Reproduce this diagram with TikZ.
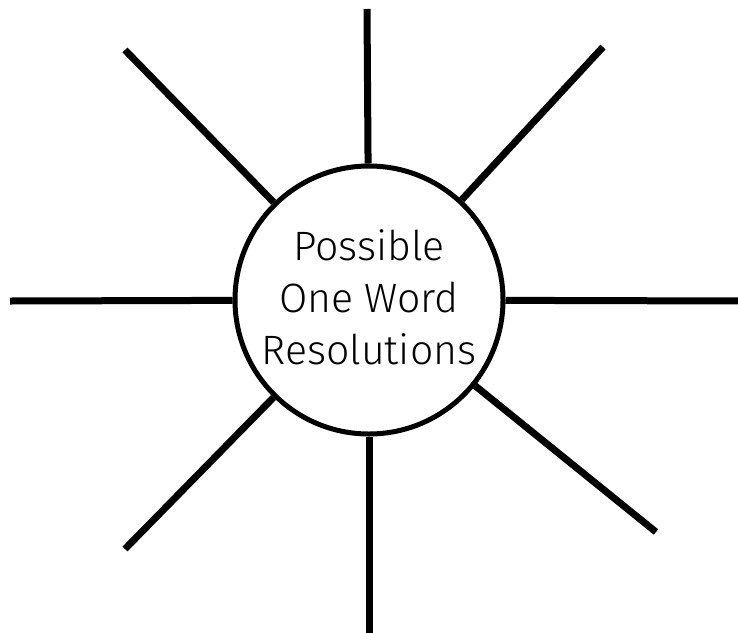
\documentclass[tikz,border=0pt]{standalone}
\usepackage{fontspec}
\setmainfont{Fira Sans}[UprightFont={* Light}]
\begin{document}
\begin{tikzpicture}[x=1pt,y=-1pt,
  ray/.style={line width=7pt, line cap=butt},
  hub/.style={circle, draw, line width=5pt, minimum size=268pt, inner sep=0pt},
  label/.style={align=center, inner sep=0pt, font=\fontsize{41}{52}\selectfont}]
\useasboundingbox (0,0) rectangle (738,632);
\node[hub] (c) at (369,300) {};
\node[label] (txt) at (369,297) {Possible\\One Word\\Resolutions};
\coordinate (t) at (367,9);
\coordinate (ul) at (125,50);
\coordinate (ur) at (603,47);
\coordinate (l) at (10,301);
\coordinate (r) at (742,301);
\coordinate (ll) at (125,549);
\coordinate (b) at (369,636);
\coordinate (lr) at (656,532);
\foreach \p in {t,ul,ur,l,r,ll,b,lr} \draw[ray] (\p) -- (c);
\end{tikzpicture}
\end{document}
